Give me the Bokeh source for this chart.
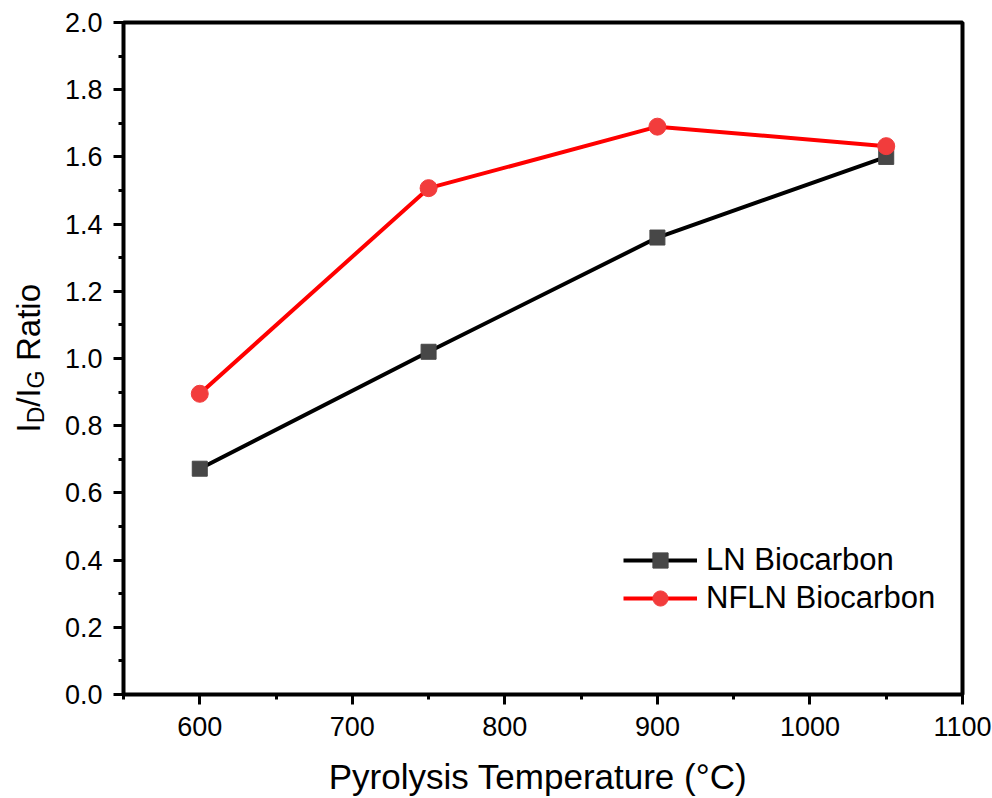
from bokeh.plotting import figure
from bokeh.models import (Range1d, Label, Legend, LegendItem, FixedTicker,
                          NumeralTickFormatter, BoxAnnotation)
from bokeh.embed import file_html
from bokeh.resources import INLINE

# ---- data ----
temps = [600, 750, 900, 1050]
ln_ratio = [0.672, 1.02, 1.36, 1.60]
nfln_ratio = [0.895, 1.507, 1.69, 1.632]
series_names = ["LN Biocarbon", "NFLN Biocarbon"]
x_ticks = [600, 700, 800, 900, 1000, 1100]
x_minor = [550, 650, 750, 850, 950, 1050]
y_ticks = [0.0, 0.2, 0.4, 0.6, 0.8, 1.0, 1.2, 1.4, 1.6, 1.8, 2.0]
y_minor = [0.1, 0.3, 0.5, 0.7, 0.9, 1.1, 1.3, 1.5, 1.7, 1.9]
x_label = "Pyrolysis Temperature (°C)"
x_lo, x_hi = 550, 1100
y_lo, y_hi = 0.0, 2.0

FONT = "Liberation Sans"
W, H = 992, 798
# plot box placement on the canvas (pixels)
BOX_L, BOX_R, BOX_T, BOX_B = 123, 962, 22, 694
kx = (BOX_R - BOX_L) / (x_hi - x_lo)
ky = (BOX_B - BOX_T) / (y_hi - y_lo)

# the frame covers the whole canvas so that outer texts are not clipped
p = figure(width=W, height=H, output_backend="svg", toolbar_location=None,
           x_range=Range1d(x_lo - BOX_L / kx, x_hi + (W - BOX_R) / kx),
           y_range=Range1d(y_lo - (H - BOX_B) / ky, y_hi + BOX_T / ky),
           min_border=0)
p.background_fill_color = "white"
p.border_fill_color = "white"
p.grid.visible = False
p.outline_line_color = None

for ax in (p.xaxis[0], p.yaxis[0]):
    ax.axis_line_color = None
    ax.major_tick_line_width = 3
    ax.minor_tick_line_width = 3
    ax.major_tick_out = 10
    ax.major_tick_in = 0
    ax.minor_tick_out = 5
    ax.minor_tick_in = 0
    ax.major_label_text_font = FONT
    ax.major_label_text_font_size = "27px"
    ax.major_label_text_color = "black"

p.xaxis[0].fixed_location = y_lo
p.yaxis[0].fixed_location = x_lo
p.xaxis.ticker = FixedTicker(ticks=x_ticks, minor_ticks=x_minor)
p.yaxis.ticker = FixedTicker(ticks=y_ticks, minor_ticks=y_minor)
p.yaxis.formatter = NumeralTickFormatter(format="0.0")
p.xaxis.major_label_standoff = 12
p.yaxis.major_label_standoff = 11

# plot box
p.add_layout(BoxAnnotation(left=x_lo, right=x_hi, bottom=y_lo, top=y_hi,
                           fill_alpha=0, line_color="black", line_alpha=1.0,
                           line_width=4, level="overlay"))

# lines and markers
l1 = p.line(temps, ln_ratio, line_color="black", line_width=4)
s1 = p.scatter(temps, ln_ratio, marker="square", size=15, fill_color="#474747", line_color="#474747")
l2 = p.line(temps, nfln_ratio, line_color="#ff0000", line_width=4)
s2 = p.scatter(temps, nfln_ratio, marker="circle", size=17, fill_color="#f23c3c", line_color="#f23c3c")

legend = Legend(items=[LegendItem(label=series_names[0], renderers=[l1, s1]),
                       LegendItem(label=series_names[1], renderers=[l2, s2])],
                location=(623, H - 617))
legend.border_line_color = None
legend.background_fill_alpha = 0
legend.padding = 0
legend.margin = 0
legend.spacing = 0
legend.glyph_width = 74
legend.glyph_height = 38
legend.label_height = 38
legend.label_standoff = 9
legend.label_text_font = FONT
legend.label_text_font_size = "31px"
legend.label_text_color = "black"
p.add_layout(legend, "center")

# x-axis title
p.add_layout(Label(x=(x_lo + x_hi) / 2, y=y_lo, x_offset=-5, y_offset=-82, text=x_label,
                   text_font=FONT, text_font_size="35px", text_color="black",
                   text_align="center", text_baseline="alphabetic"))

# y-axis title with subscripts, built from rotated text pieces
pieces = [("I", 33, 262, -95), ("D", 23, 271.2, -88), ("/I", 33, 287.8, -95),
          ("G", 23, 306.1, -88), ("Ratio", 33, 333.5, -95)]
for txt, fs, yo, xo in pieces:
    p.add_layout(Label(x=x_lo, y=y_lo, x_offset=xo, y_offset=yo, text=txt, angle=1.5707963,
                       text_font=FONT, text_font_size=f"{fs}px", text_color="black",
                       text_align="left", text_baseline="alphabetic"))

open("out.html", "w").write(file_html(p, INLINE))
